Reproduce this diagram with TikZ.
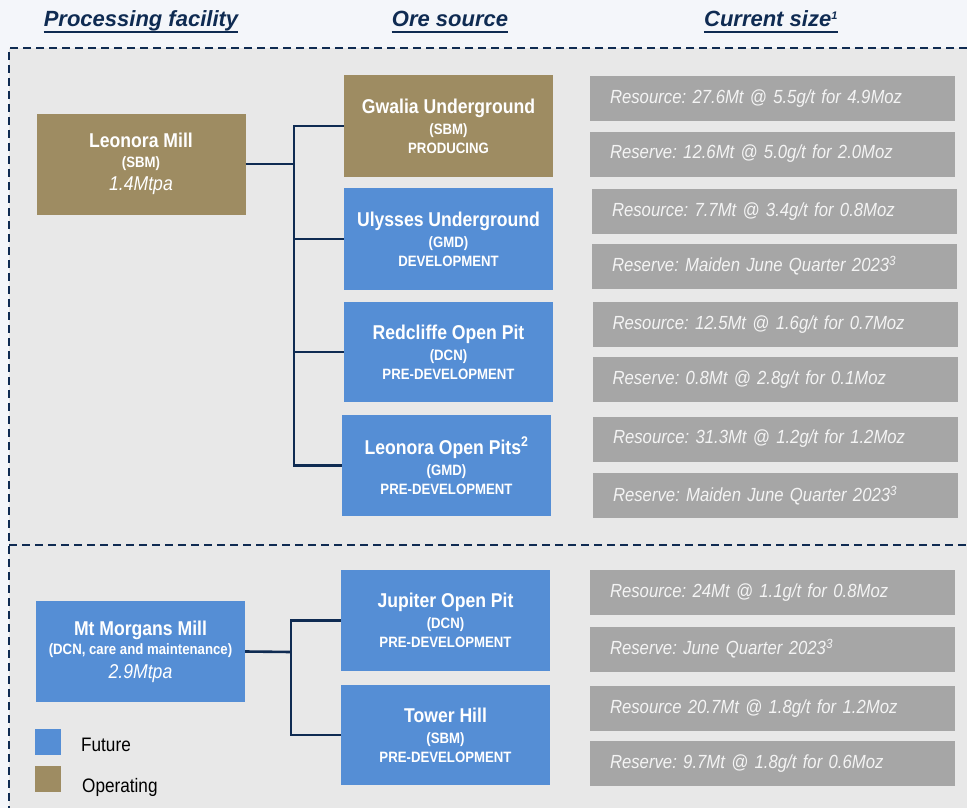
\documentclass[tikz,border=0pt]{standalone}
\usepackage{fontspec}
\setmainfont[FakeStretch=0.88]{Liberation Sans}
\newfontfamily\hdrfont{Liberation Sans}
\definecolor{pagebg}{HTML}{F4F6FA}
\definecolor{panelbg}{HTML}{E8E8E8}
\definecolor{navy}{HTML}{0F2B52}
\definecolor{gold}{HTML}{9E8C62}
\definecolor{futblue}{HTML}{558ED5}
\definecolor{greybox}{HTML}{A6A6A6}
\definecolor{greytext}{HTML}{F4F4F4}
\begin{document}
\frenchspacing
\begin{tikzpicture}[x=1pt,y=-1pt,
  hdr/.style={text=navy,font=\hdrfont\fontsize{22}{26}\selectfont\bfseries\itshape,anchor=base,inner sep=0pt},
  mill/.style={minimum width=209pt,minimum height=101pt,inner sep=0pt,text=white,align=center,
    font=\fontsize{15}{19.5}\selectfont\bfseries},
  ore/.style={minimum width=209pt,minimum height=102pt,inner sep=0pt,text=white,align=center,
    font=\fontsize{15}{19}\selectfont\bfseries},
  ttl/.style={},
  opfill/.style={fill=gold},
  futfill/.style={fill=futblue},
  size/.style={fill=greybox,minimum height=45pt,text width=325pt,inner xsep=20pt,inner ysep=0pt,
    align=left,text=greytext,font=\fontsize{19}{21}\selectfont\itshape},
  conn/.style={draw=navy,line width=2.6pt},
  border/.style={draw=navy,line width=2pt,dash pattern=on 8pt off 5pt},
  legtext/.style={anchor=base west,inner sep=0pt,font=\fontsize{19.5}{21}\selectfont,text=black},
]
\useasboundingbox (0,0) rectangle (967,808);
\fill[pagebg] (0,0) rectangle (967,808);
\fill[panelbg] (9,48) rectangle (967,808);
\draw[border] (967,48) -- (9,48) -- (9,808);
\draw[border] (9,545) -- (967,545);

% headers
\node[hdr] (h1) at (141,27) {Processing facility};
\node[hdr] (h2) at (450,27) {Ore source};
\node[hdr] (h3) at (771,27) {Current size\textsuperscript{\fontsize{11}{11}\selectfont 1}};
\foreach \h in {h1,h2,h3}{
  \draw[navy,line width=2pt] ([yshift=-5pt]\h.base west) -- ([yshift=-5pt]\h.base east);
}

% mills
\node[mill,opfill] (lm) at (141,164) {{\fontsize{20}{21}\selectfont Leonora Mill}\\(SBM)\\[4pt]{\fontsize{20}{21}\selectfont\mdseries\itshape 1.4Mtpa}};
\node[mill,futfill] (mm) at (140.5,651.5) {{\fontsize{20}{21}\selectfont Mt Morgans Mill}\\(DCN, care and maintenance)\\[4pt]{\fontsize{20}{21}\selectfont\mdseries\itshape 2.9Mtpa}};

% ore sources
\node[ore,opfill] (gw) at (448.5,126) {{\fontsize{20}{21}\selectfont Gwalia Underground}\\[2pt](SBM)\\PRODUCING};
\node[ore,futfill] (ul) at (448.5,239) {{\fontsize{20}{21}\selectfont Ulysses Underground}\\[2pt](GMD)\\DEVELOPMENT};
\node[ore,futfill,minimum height=100pt] (rc) at (448.5,352) {{\fontsize{20}{21}\selectfont Redcliffe Open Pit}\\[2pt](DCN)\\PRE-DEVELOPMENT};
\node[ore,futfill,minimum height=101pt] (lo) at (446.5,465.5) {{\fontsize{20}{21}\selectfont Leonora Open Pits\textsuperscript{2}}\\[2pt](GMD)\\PRE-DEVELOPMENT};
\node[ore,futfill,minimum height=101pt] (jp) at (445.5,620.5) {{\fontsize{20}{21}\selectfont Jupiter Open Pit}\\[2pt](DCN)\\PRE-DEVELOPMENT};
\node[ore,futfill,minimum height=100pt] (th) at (445.5,735) {{\fontsize{20}{21}\selectfont Tower Hill}\\[2pt](SBM)\\PRE-DEVELOPMENT};

% connectors
\coordinate (j1) at (294,164);
\coordinate (j2) at (291,652);
\draw[conn] (lm.east) -- (j1);
\draw[conn] (gw.west) -- (gw.west -| j1) -- (lo.west -| j1) -- (lo.west);
\draw[conn] (ul.west -| j1) -- (ul.west);
\draw[conn] (rc.west -| j1) -- (rc.west);
\draw[conn] (mm.east) -- (j2);
\draw[conn] (jp.west) -- (jp.west -| j2) -- (th.west -| j2) -- (th.west);

% current size
\node[size] (r1) at (772.5,98.5) {Resource: 27.6Mt @ 5.5g/t for 4.9Moz};
\node[size] (v1) at (772.5,154) {Reserve: 12.6Mt @ 5.0g/t for 2.0Moz};
\node[size] (r2) at (774.5,211.5) {Resource: 7.7Mt @ 3.4g/t for 0.8Moz};
\node[size] (v2) at (774.5,266) {Reserve: Maiden June Quarter 2023\textsuperscript{3}};
\node[size] (r3) at (775,324.5) {Resource: 12.5Mt @ 1.6g/t for 0.7Moz};
\node[size] (v3) at (775,379.5) {Reserve: 0.8Mt @ 2.8g/t for 0.1Moz};
\node[size] (r4) at (775.5,439) {Resource: 31.3Mt @ 1.2g/t for 1.2Moz};
\node[size] (v4) at (775.5,495.5) {Reserve: Maiden June Quarter 2023\textsuperscript{3}};
\node[size] (r5) at (772.5,592.5) {Resource: 24Mt @ 1.1g/t for 0.8Moz};
\node[size] (v5) at (772.5,649) {Reserve: June Quarter 2023\textsuperscript{3}};
\node[size] (r6) at (772.5,708.5) {Resource 20.7Mt @ 1.8g/t for 1.2Moz};
\node[size] (v6) at (772.5,763.5) {Reserve: 9.7Mt @ 1.8g/t for 0.6Moz};

% legend
\node[fill=futblue,minimum size=26pt,inner sep=0pt] (lf) at (48,742) {};
\node[fill=gold,minimum size=26pt,inner sep=0pt] (lg) at (48,779) {};
\node[legtext] (tf) at (81,751) {Future};
\node[legtext] (tg) at (82,792) {Operating};
\end{tikzpicture}
\end{document}
